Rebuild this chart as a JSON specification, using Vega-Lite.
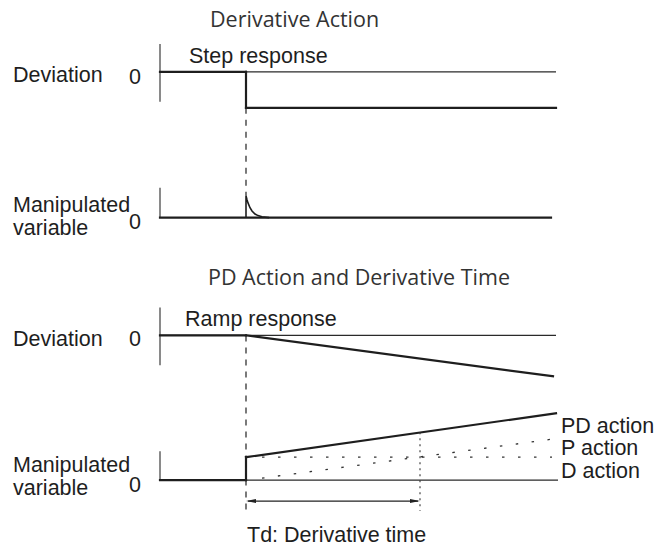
{
  "$schema": "https://vega.github.io/schema/vega-lite/v6.json",
  "autosize": {"type": "fit", "contains": "padding"},
  "padding": 0,
  "width": 656,
  "height": 547,
  "background": "white",
  "config": {"view": {"stroke": null}},
  "encoding": {
    "x": {"field": "x", "type": "quantitative", "scale": {"domain": [0, 656], "nice": false, "zero": false}, "axis": null},
    "y": {"field": "y", "type": "quantitative", "scale": {"domain": [0, 547], "nice": false, "zero": false, "reverse": true}, "axis": null}
  },
  "layer": [
    {
      "data": {"values": [
        {"x": 160, "y": 44, "x2": 160, "y2": 102},
        {"x": 160, "y": 72, "x2": 556, "y2": 72},
        {"x": 160, "y": 188, "x2": 160, "y2": 218},
        {"x": 160, "y": 308, "x2": 160, "y2": 366},
        {"x": 160, "y": 336, "x2": 556, "y2": 336},
        {"x": 160, "y": 452, "x2": 160, "y2": 481},
        {"x": 246, "y": 481, "x2": 558, "y2": 481}
      ]},
      "mark": {"type": "rule", "color": "#2a2a2a", "strokeWidth": 1.1},
      "encoding": {"x2": {"field": "x2"}, "y2": {"field": "y2"}}
    },
    {
      "data": {"values": [
        {"x": 160, "y": 72, "x2": 246, "y2": 72},
        {"x": 246, "y": 72, "x2": 246, "y2": 108},
        {"x": 246, "y": 108, "x2": 556, "y2": 108},
        {"x": 160, "y": 218, "x2": 551, "y2": 218},
        {"x": 160, "y": 336, "x2": 246, "y2": 336},
        {"x": 246, "y": 336, "x2": 553, "y2": 377},
        {"x": 160, "y": 481, "x2": 246, "y2": 481},
        {"x": 246, "y": 481, "x2": 246, "y2": 458},
        {"x": 246, "y": 458, "x2": 556, "y2": 414}
      ]},
      "mark": {"type": "rule", "color": "#1e1e1e", "strokeWidth": 2.2, "strokeCap": "square"},
      "encoding": {"x2": {"field": "x2"}, "y2": {"field": "y2"}}
    },
    {
      "data": {"values": [
        {"i": 0, "x": 246, "y": 218},
        {"i": 1, "x": 246, "y": 196},
        {"i": 2, "x": 247, "y": 200},
        {"i": 3, "x": 248, "y": 203.3},
        {"i": 4, "x": 250, "y": 208.1},
        {"i": 5, "x": 252, "y": 211.4},
        {"i": 6, "x": 255, "y": 214.4},
        {"i": 7, "x": 258, "y": 216},
        {"i": 8, "x": 262, "y": 217.1},
        {"i": 9, "x": 269, "y": 218}
      ]},
      "mark": {"type": "line", "color": "#1e1e1e", "strokeWidth": 1.6},
      "encoding": {"order": {"field": "i", "type": "quantitative"}}
    },
    {
      "data": {"values": [
        {"x": 246, "y": 108, "x2": 246, "y2": 196},
        {"x": 246, "y": 336, "x2": 246, "y2": 512}
      ]},
      "mark": {"type": "rule", "color": "#222222", "strokeWidth": 1.2, "strokeDash": [6, 6]},
      "encoding": {"x2": {"field": "x2"}, "y2": {"field": "y2"}}
    },
    {
      "data": {"values": [
        {"x": 262, "y": 458, "x2": 552, "y2": 458},
        {"x": 262, "y": 479, "x2": 552, "y2": 440}
      ]},
      "mark": {"type": "rule", "color": "#333333", "strokeWidth": 1.3, "strokeDash": [2.5, 13.5]},
      "encoding": {"x2": {"field": "x2"}, "y2": {"field": "y2"}}
    },
    {
      "data": {"values": [
        {"x": 420, "y": 433, "x2": 420, "y2": 512}
      ]},
      "mark": {"type": "rule", "color": "#333333", "strokeWidth": 1.1, "strokeDash": [2, 4]},
      "encoding": {"x2": {"field": "x2"}, "y2": {"field": "y2"}}
    },
    {
      "data": {"values": [
        {"x": 248, "y": 502, "x2": 418, "y2": 502}
      ]},
      "mark": {"type": "rule", "color": "#222222", "strokeWidth": 1.2},
      "encoding": {"x2": {"field": "x2"}, "y2": {"field": "y2"}}
    },
    {
      "data": {"values": [{"x": 415, "y": 502}]},
      "mark": {"type": "point", "shape": "M1,0L-1,-0.4L-1,0.4Z", "filled": true, "size": 100, "color": "#222222", "opacity": 1}
    },
    {
      "data": {"values": [{"x": 251, "y": 502}]},
      "mark": {"type": "point", "shape": "M-1,0L1,-0.4L1,0.4Z", "filled": true, "size": 100, "color": "#222222", "opacity": 1}
    },
    {
      "data": {"values": [
        {"label": "Derivative Action", "x": 210, "y": 27},
        {"label": "PD Action and Derivative Time", "x": 208, "y": 286}
      ]},
      "mark": {"type": "text", "font": "Open Sans", "fontSize": 21.5, "color": "#333333", "align": "left", "baseline": "alphabetic"},
      "encoding": {"text": {"field": "label"}}
    },
    {
      "data": {"values": [
        {"label": "Step response", "x": 189, "y": 63},
        {"label": "Deviation", "x": 13, "y": 82},
        {"label": "Manipulated", "x": 13, "y": 212},
        {"label": "variable", "x": 13, "y": 235},
        {"label": "Ramp response", "x": 185, "y": 327},
        {"label": "Deviation", "x": 13, "y": 347},
        {"label": "Manipulated", "x": 13, "y": 473},
        {"label": "variable", "x": 13, "y": 496},
        {"label": "PD action", "x": 561, "y": 434},
        {"label": "P action", "x": 561, "y": 456},
        {"label": "D action", "x": 561, "y": 479},
        {"label": "Td: Derivative time", "x": 247, "y": 543}
      ]},
      "mark": {"type": "text", "font": "Liberation Sans", "fontSize": 21.5, "color": "#1e1e1e", "align": "left", "baseline": "alphabetic"},
      "encoding": {"text": {"field": "label"}}
    },
    {
      "data": {"values": [
        {"label": "0", "x": 135, "y": 84},
        {"label": "0", "x": 135, "y": 229},
        {"label": "0", "x": 135, "y": 347},
        {"label": "0", "x": 135, "y": 493}
      ]},
      "mark": {"type": "text", "font": "Liberation Sans", "fontSize": 21.5, "color": "#1e1e1e", "align": "center", "baseline": "alphabetic"},
      "encoding": {"text": {"field": "label"}}
    }
  ]
}
